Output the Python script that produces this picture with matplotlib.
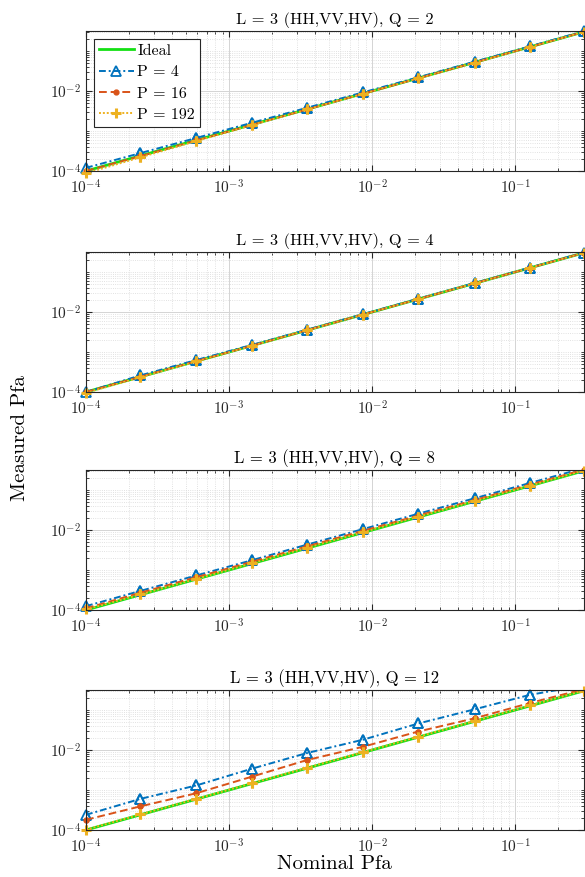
import numpy as np
import matplotlib
matplotlib.use("Agg")
import matplotlib.pyplot as plt
from matplotlib.ticker import LogLocator, NullFormatter

plt.rcParams['mathtext.fontset'] = 'cm'
plt.rcParams['font.family'] = 'cmr10'
plt.rcParams['axes.unicode_minus'] = False

# nominal Pfa (x) and ideal curve
nominal = [1e-4, 2.4e-4, 5.9e-4, 1.44e-3, 3.5e-3, 8.6e-3, 2.1e-2, 5.2e-2, 0.127, 0.3]
ideal = [1e-4, 2.4e-4, 5.9e-4, 1.44e-3, 3.5e-3, 8.6e-3, 2.1e-2, 5.2e-2, 0.127, 0.3]

Q_values = [2, 4, 8, 12]
P_labels = ['P = 4', 'P = 16', 'P = 192']

# measured Pfa, one list per P, per Q
q2_p4 = [1.2e-4, 2.8e-4, 6.7e-4, 1.6e-3, 3.8e-3, 9.2e-3, 2.2e-2, 5.4e-2, 0.131, 0.31]
q2_p16 = [1.0e-4, 2.35e-4, 5.8e-4, 1.42e-3, 3.45e-3, 8.5e-3, 2.08e-2, 5.15e-2, 0.126, 0.30]
q2_p192 = [0.88e-4, 2.2e-4, 5.6e-4, 1.4e-3, 3.45e-3, 8.5e-3, 2.08e-2, 5.1e-2, 0.126, 0.30]

q4_p4 = [1.0e-4, 2.6e-4, 6.3e-4, 1.5e-3, 3.6e-3, 8.8e-3, 2.15e-2, 5.3e-2, 0.129, 0.305]
q4_p16 = [1.0e-4, 2.4e-4, 5.9e-4, 1.43e-3, 3.5e-3, 8.6e-3, 2.1e-2, 5.2e-2, 0.127, 0.30]
q4_p192 = [0.95e-4, 2.35e-4, 5.8e-4, 1.43e-3, 3.5e-3, 8.6e-3, 2.1e-2, 5.2e-2, 0.127, 0.30]

q8_p4 = [1.25e-4, 3.0e-4, 7.3e-4, 1.75e-3, 4.3e-3, 1.05e-2, 2.55e-2, 6.2e-2, 0.15, 0.35]
q8_p16 = [1.1e-4, 2.7e-4, 6.6e-4, 1.6e-3, 3.9e-3, 9.5e-3, 2.3e-2, 5.6e-2, 0.137, 0.32]
q8_p192 = [1.03e-4, 2.45e-4, 6.0e-4, 1.47e-3, 3.6e-3, 8.8e-3, 2.15e-2, 5.3e-2, 0.129, 0.305]

q12_p4 = [2.4e-4, 6.0e-4, 1.3e-3, 3.4e-3, 8.4e-3, 1.8e-2, 4.6e-2, 1.04e-1, 0.24, 0.41]
q12_p16 = [1.8e-4, 3.9e-4, 8.3e-4, 2.15e-3, 5.6e-3, 1.2e-2, 2.9e-2, 6.2e-2, 0.15, 0.33]
q12_p192 = [1.02e-4, 2.45e-4, 6.0e-4, 1.47e-3, 3.6e-3, 8.8e-3, 2.15e-2, 5.3e-2, 0.13, 0.305]

measured = [[q2_p4, q2_p16, q2_p192],
            [q4_p4, q4_p16, q4_p192],
            [q8_p4, q8_p16, q8_p192],
            [q12_p4, q12_p16, q12_p192]]

colors = ['#0072BD', '#D95319', '#EDB120']
linestyles = [(0, (3.5, 1.5, 1, 1.5)), (0, (4, 2)), (0, (1, 1))]
markers = [dict(marker='^', mfc='none', ms=6.5, mew=1.3),
           dict(marker='o', mfc='#D95319', ms=3.5, mew=1),
           dict(marker='+', ms=7, mew=2.2)]

fig = plt.figure(figsize=(5.85, 8.77), dpi=100)
left = 86 / 585
width = 497.5 / 585
tops_px = [31, 252, 470, 690]
height = 140 / 877
title_sizes = [11.8, 11.8, 12, 12]
ymax = 10 ** -0.5

for i, q in enumerate(Q_values):
    bottom = 1 - (tops_px[i] + 140) / 877
    ax = fig.add_axes([left, bottom, width, height])
    ax.plot(nominal, ideal, color='#14E014', lw=2, label='Ideal')
    for j in range(3):
        ax.plot(nominal, measured[i][j], color=colors[j], ls=linestyles[j], lw=1.4,
                label=P_labels[j], **markers[j])
        # markers on the axes edges drawn in full, as in the original
        pts = [(x, y) for x, y in zip(nominal, measured[i][j]) if y <= ymax * 1.02]
        ax.plot([p[0] for p in pts], [p[1] for p in pts], ls='none', color=colors[j],
                clip_on=False, **markers[j])
    ax.set_xscale('log')
    ax.set_yscale('log')
    ax.set_xlim(1e-4, 0.3)
    ax.set_ylim(1e-4, ymax)
    ax.set_xticks([1e-4, 1e-3, 1e-2, 1e-1])
    ax.set_yticks([1e-4, 1e-2])
    ax.xaxis.set_minor_locator(LogLocator(base=10, subs=np.arange(1, 10), numticks=20))
    ax.yaxis.set_minor_locator(LogLocator(base=10, subs=np.arange(1, 10), numticks=20))
    ax.xaxis.set_minor_formatter(NullFormatter())
    ax.yaxis.set_minor_formatter(NullFormatter())
    ax.grid(True, which='major', color='#d4d4d4', lw=0.7, ls='-')
    ax.grid(True, which='minor', color='#d8d8d8', lw=0.6, ls=':')
    ax.set_axisbelow(True)
    ax.tick_params(which='both', direction='in', top=True, right=True,
                   labelsize=11, colors='#262626')
    ax.tick_params(axis='x', which='major', pad=5)
    ax.tick_params(which='major', length=4)
    ax.tick_params(which='minor', length=2)
    for s in ax.spines.values():
        s.set_color('#262626')
        s.set_linewidth(0.8)
    ax.set_title('L = 3 (HH,VV,HV), Q = ' + str(q), fontsize=title_sizes[i], pad=5)
    if i == 0:
        leg = ax.legend(loc='upper left', fontsize=11.5, fancybox=False,
                        edgecolor='#262626', framealpha=1, handlelength=2.2,
                        borderpad=0.3, labelspacing=0.45, handletextpad=0.2,
                        borderaxespad=0.5)
        leg.get_frame().set_linewidth(0.8)
    if i == 3:
        ax.set_xlabel('Nominal Pfa', fontsize=15, labelpad=0)

fig.text(0.035, 0.5, 'Measured Pfa', fontsize=15, rotation=90,
         ha='center', va='center')

fig.savefig('out.png', dpi=100)
